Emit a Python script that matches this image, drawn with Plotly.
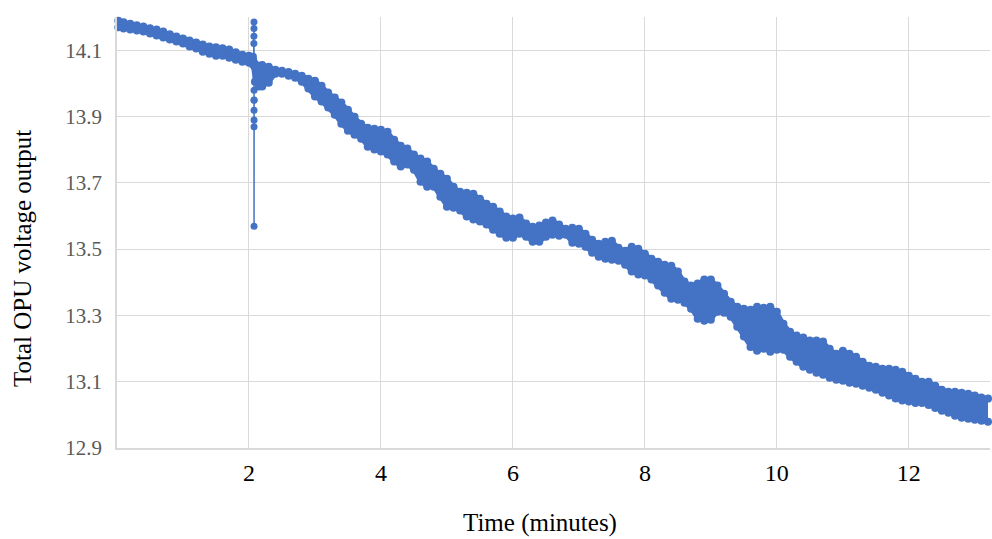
import plotly.graph_objects as go

# Sampling times (minutes) for the upper / lower extent of the voltage trace
t_band = [0.02, 0.1, 0.2, 0.3, 0.4, 0.5, 0.6, 0.7, 0.8, 0.9, 1.0, 1.1, 1.2, 1.3, 1.4,
          1.5, 1.6, 1.7, 1.8, 1.9, 2.0, 2.06, 2.09, 2.15, 2.2, 2.3, 2.4, 2.5, 2.6, 2.7,
          2.8, 2.9, 3.0, 3.1, 3.2, 3.3, 3.4, 3.5, 3.6, 3.7, 3.8, 3.9, 4.0, 4.1, 4.2,
          4.3, 4.4, 4.5, 4.6, 4.7, 4.8, 4.9, 5.0, 5.1, 5.2, 5.3, 5.4, 5.5, 5.6, 5.7,
          5.8, 5.9, 6.0, 6.1, 6.2, 6.3, 6.4, 6.5, 6.6, 6.7, 6.8, 6.9, 7.0, 7.1, 7.2,
          7.3, 7.4, 7.5, 7.6, 7.7, 7.8, 7.9, 8.0, 8.1, 8.2, 8.3, 8.4, 8.5, 8.6, 8.7,
          8.8, 8.9, 9.0, 9.1, 9.2, 9.3, 9.4, 9.5, 9.6, 9.7, 9.8, 9.9, 10.0, 10.1, 10.2,
          10.3, 10.4, 10.5, 10.6, 10.7, 10.8, 10.9, 11.0, 11.1, 11.2, 11.3, 11.4, 11.5,
          11.6, 11.7, 11.8, 11.9, 12.0, 12.1, 12.2, 12.3, 12.4, 12.5, 12.6, 12.7, 12.8,
          12.9, 13.0, 13.1, 13.2]

v_upper = [14.189, 14.184, 14.180, 14.175, 14.171, 14.166, 14.162, 14.156, 14.148, 14.141,
           14.135, 14.129, 14.123, 14.117, 14.111, 14.109, 14.106, 14.102, 14.094, 14.086,
           14.083, 14.080, 14.059, 14.053, 14.055, 14.050, 14.041, 14.038, 14.034, 14.029,
           14.023, 14.014, 14.008, 13.993, 13.972, 13.957, 13.942, 13.920, 13.899, 13.878,
           13.866, 13.863, 13.860, 13.854, 13.830, 13.812, 13.803, 13.785, 13.773, 13.764,
           13.742, 13.727, 13.712, 13.688, 13.673, 13.670, 13.667, 13.652, 13.637, 13.628,
           13.613, 13.598, 13.592, 13.595, 13.577, 13.567, 13.571, 13.580, 13.586, 13.574,
           13.561, 13.564, 13.561, 13.546, 13.528, 13.516, 13.522, 13.525, 13.504, 13.495,
           13.507, 13.501, 13.486, 13.471, 13.462, 13.453, 13.450, 13.432, 13.402, 13.390,
           13.396, 13.408, 13.408, 13.390, 13.365, 13.341, 13.326, 13.320, 13.317, 13.326,
           13.323, 13.326, 13.311, 13.275, 13.251, 13.239, 13.233, 13.224, 13.224, 13.221,
           13.199, 13.184, 13.193, 13.184, 13.175, 13.160, 13.148, 13.145, 13.139, 13.139,
           13.136, 13.130, 13.118, 13.109, 13.100, 13.100, 13.088, 13.076, 13.070, 13.070,
           13.067, 13.064, 13.058, 13.052, 13.049]

v_lower = [14.169, 14.165, 14.162, 14.159, 14.156, 14.150, 14.144, 14.138, 14.132, 14.126,
           14.120, 14.111, 14.105, 14.095, 14.089, 14.083, 14.083, 14.077, 14.071, 14.065,
           14.062, 14.056, 14.005, 13.990, 13.990, 14.002, 14.029, 14.029, 14.023, 14.017,
           14.005, 13.984, 13.960, 13.945, 13.927, 13.905, 13.878, 13.857, 13.845, 13.833,
           13.809, 13.800, 13.794, 13.785, 13.764, 13.749, 13.755, 13.739, 13.703, 13.688,
           13.688, 13.658, 13.628, 13.625, 13.616, 13.598, 13.589, 13.583, 13.574, 13.558,
           13.546, 13.534, 13.534, 13.546, 13.537, 13.522, 13.522, 13.537, 13.543, 13.540,
           13.543, 13.519, 13.516, 13.507, 13.489, 13.477, 13.471, 13.468, 13.465, 13.453,
           13.432, 13.423, 13.420, 13.408, 13.390, 13.368, 13.350, 13.347, 13.338, 13.320,
           13.290, 13.284, 13.287, 13.311, 13.308, 13.296, 13.266, 13.236, 13.205, 13.193,
           13.199, 13.190, 13.196, 13.196, 13.175, 13.160, 13.145, 13.136, 13.127, 13.121,
           13.112, 13.106, 13.103, 13.097, 13.094, 13.088, 13.082, 13.076, 13.067, 13.058,
           13.049, 13.043, 13.040, 13.036, 13.036, 13.030, 13.021, 13.012, 13.006, 12.997,
           12.991, 12.988, 12.985, 12.982, 12.979]

# Transient readings around the 2-minute mark
t_spike = [2.072, 2.074, 2.075, 2.076, 2.076, 2.077, 2.077, 2.077, 2.077, 2.077, 2.077, 2.077, 2.078]
v_spike = [14.070, 14.120, 14.142, 14.165, 14.185, 14.050, 13.979, 13.949, 13.919, 13.889,
           13.869, 13.569, 13.950]

x_ticks = [2, 4, 6, 8, 10, 12]
y_ticks = [12.9, 13.1, 13.3, 13.5, 13.7, 13.9, 14.1]

BLUE = "#4472C4"
GRID = "#d9d9d9"
SERIF = "Liberation Serif"

fig = go.Figure()
fig.add_trace(go.Scatter(
    x=t_band, y=v_lower, mode="lines+markers",
    line=dict(color=BLUE, width=4), marker=dict(color=BLUE, size=8),
    cliponaxis=False, showlegend=False, hoverinfo="skip",
))
fig.add_trace(go.Scatter(
    x=t_band, y=v_upper, mode="lines+markers", fill="tonexty", fillcolor=BLUE,
    line=dict(color=BLUE, width=4), marker=dict(color=BLUE, size=8),
    cliponaxis=False, showlegend=False,
))
fig.add_trace(go.Scatter(
    x=t_spike, y=v_spike, mode="lines+markers",
    line=dict(color=BLUE, width=1.5), marker=dict(color=BLUE, size=7),
    cliponaxis=False, showlegend=False,
))

fig.update_layout(
    width=992, height=539,
    margin=dict(l=117, r=2, t=17, b=91),
    plot_bgcolor="white", paper_bgcolor="white",
    font=dict(family=SERIF, color="black"),
    xaxis=dict(
        range=[0, 13.23], tickvals=x_ticks, ticktext=[str(v) for v in x_ticks],
        showgrid=True, gridcolor=GRID, gridwidth=1,
        showline=True, linecolor=GRID, linewidth=1.5, zeroline=False,
        ticks="", ticklabelstandoff=2,
        tickfont=dict(family=SERIF, size=24, color="black"),
    ),
    yaxis=dict(
        range=[12.9, 14.2], tickvals=y_ticks, ticktext=[f"{v:.1f}" for v in y_ticks],
        showgrid=True, gridcolor=GRID, gridwidth=1,
        showline=True, linecolor=GRID, linewidth=1.5, zeroline=False,
        ticks="", ticklabelstandoff=9,
        tickfont=dict(family=SERIF, size=21, color="#595959"),
    ),
    annotations=[
        dict(text="Time (minutes)", xref="paper", yref="paper",
             x=(540 - 117) / 873, y=-(523 - 448) / 431, xanchor="center", yanchor="middle",
             showarrow=False, font=dict(family=SERIF, size=25, color="black")),
        dict(text="Total OPU voltage output", xref="paper", yref="paper",
             x=-(117 - 22) / 873, y=(448 - 259) / 431, xanchor="center", yanchor="middle",
             textangle=-90, showarrow=False, font=dict(family=SERIF, size=25, color="black")),
    ],
)

fig.write_html("out.html")
